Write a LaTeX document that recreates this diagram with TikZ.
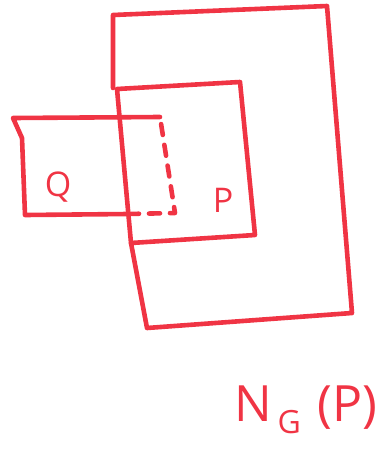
\documentclass[tikz,border=0pt]{standalone}
\usepackage{fontspec}
\setsansfont{Open Sans}
\definecolor{pen}{RGB}{240,52,68}
\tikzset{
  stroke/.style={pen, line width=4.6pt, line cap=round, line join=round},
  hidden/.style={stroke, dash pattern=on 11pt off 10pt},
  tag/.style={pen, font=\sffamily\fontsize{34}{38}\selectfont}
}

\begin{document}
\begin{tikzpicture}[x=1pt, y=-1pt]
\useasboundingbox (0,0) rectangle (385,464);
% normaliser
\coordinate (N1) at (113, 15);
\coordinate (N2) at (327, 6);
\coordinate (N3) at (352, 313);
\coordinate (N4) at (147, 328);
\coordinate (N5) at (113, 88);
% P
\coordinate (P1) at (117, 89);
\coordinate (P2) at (240, 82);
\coordinate (P3) at (255, 235);
\coordinate (P4) at (131, 243);
% Q
\coordinate (Q1) at (13, 118);
\coordinate (Q2) at (160, 117);
\coordinate (Q3) at (175, 213);
\coordinate (Q4) at (128, 214);
\coordinate (Q5) at (25, 215);
\coordinate (Q6) at (22, 138);
\draw[stroke] (N5) -- (N1) -- (N2) -- (N3) -- (N4) -- (P4);
\draw[stroke] (P1) -- (P2) -- (P3) -- (P4) -- cycle;
\draw[stroke] (Q2) -- (Q1) -- (Q6) -- (Q5) -- (Q4);
\draw[hidden] (Q4) -- (Q3) -- (Q2);
\node[tag] (q) at (58, 187) {Q};
\node[tag] (p) at (223, 200) {P};
\node[tag, font=\sffamily\fontsize{50}{56}\selectfont] (ngp) at (306, 410)
  {N\raisebox{-12pt}{\fontsize{32}{36}\selectfont\,G}\,\,(P)};
\end{tikzpicture}
\end{document}
